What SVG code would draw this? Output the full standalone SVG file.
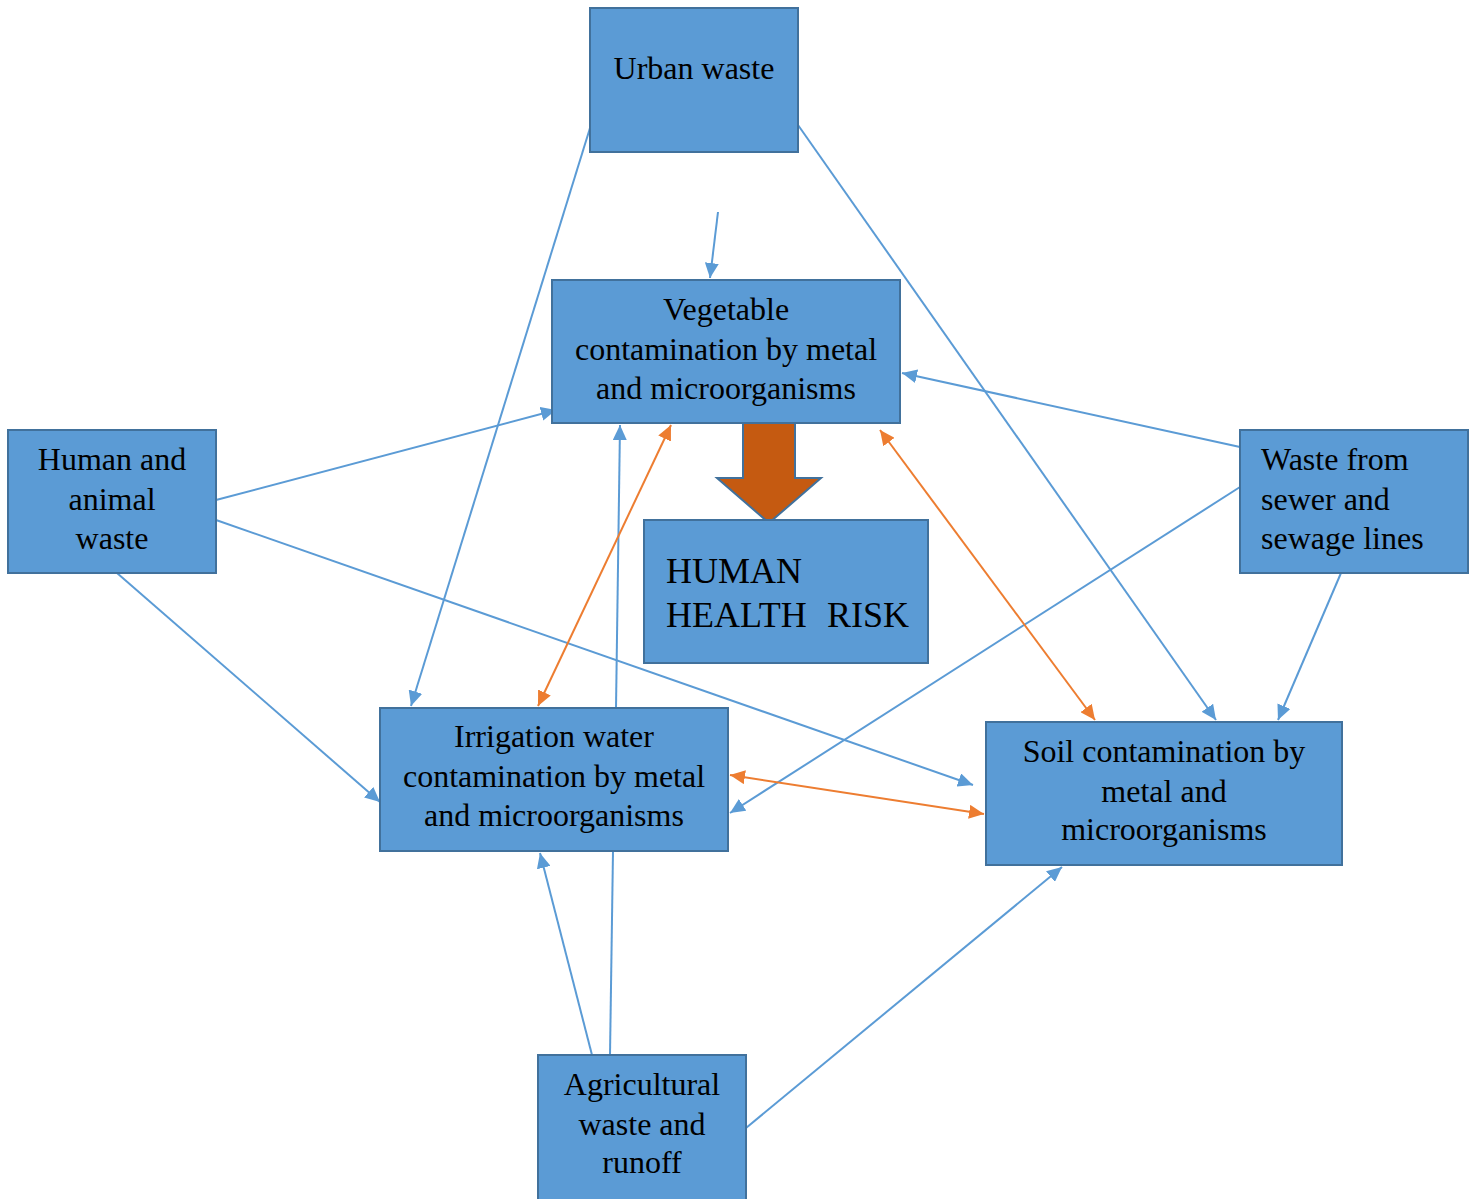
<svg xmlns="http://www.w3.org/2000/svg" width="1476" height="1199" viewBox="0 0 1476 1199">
<style>
.box{fill:#5B9BD5;stroke:#41719C;stroke-width:2}
text{font-family:"Liberation Serif","Times New Roman",serif;font-size:32px;fill:#000}
.c{text-anchor:middle}
.big{font-size:36px}
.b{fill:none;stroke:#5B9BD5;stroke-width:2}
.o{fill:none;stroke:#ED7D31;stroke-width:2}
</style>
<defs>
<marker id="ab" markerUnits="userSpaceOnUse" markerWidth="16" markerHeight="14" refX="15" refY="7" orient="auto"><path d="M0,0 L15,7 L0,14 Z" fill="#5B9BD5"/></marker>
<marker id="ao" markerUnits="userSpaceOnUse" markerWidth="16" markerHeight="14" refX="15" refY="7" orient="auto"><path d="M0,0 L15,7 L0,14 Z" fill="#ED7D31"/></marker>
<marker id="aos" markerUnits="userSpaceOnUse" markerWidth="16" markerHeight="14" refX="15" refY="7" orient="auto-start-reverse"><path d="M0,0 L15,7 L0,14 Z" fill="#ED7D31"/></marker>
</defs>
<g id="connectors">
<line class="b" x1="590" y1="128" x2="411" y2="706" marker-end="url(#ab)"/>
<line class="b" x1="798" y1="125" x2="1216" y2="720" marker-end="url(#ab)"/>
<line class="b" x1="718" y1="212" x2="710" y2="278" marker-end="url(#ab)"/>
<line class="b" x1="216" y1="500" x2="556" y2="410" marker-end="url(#ab)"/>
<line class="b" x1="216" y1="520" x2="973" y2="785" marker-end="url(#ab)"/>
<line class="b" x1="117" y1="573" x2="380" y2="802" marker-end="url(#ab)"/>
<line class="b" x1="1240" y1="447" x2="902" y2="373" marker-end="url(#ab)"/>
<line class="b" x1="1240" y1="487" x2="730" y2="813" marker-end="url(#ab)"/>
<line class="b" x1="1341" y1="573" x2="1278" y2="720" marker-end="url(#ab)"/>
<line class="b" x1="616" y1="708" x2="620" y2="425" marker-end="url(#ab)"/>
<line class="b" x1="592" y1="1055" x2="540" y2="853" marker-end="url(#ab)"/>
<line class="b" x1="610" y1="1055" x2="613" y2="851"/>
<line class="b" x1="746" y1="1128" x2="1062" y2="867" marker-end="url(#ab)"/>
<line class="o" x1="538" y1="706" x2="671" y2="425" marker-start="url(#aos)" marker-end="url(#ao)"/>
<line class="o" x1="880" y1="430" x2="1095" y2="720" marker-start="url(#aos)" marker-end="url(#ao)"/>
<line class="o" x1="730" y1="775" x2="984" y2="814" marker-start="url(#aos)" marker-end="url(#ao)"/>
</g>
<g id="urban"><rect class="box" x="590" y="8" width="208" height="144"/><text class="c" x="694" y="79">Urban waste</text></g>
<g id="vegetable"><rect class="box" x="552" y="280" width="348" height="143"/><text class="c"><tspan x="726" y="320">Vegetable</tspan><tspan x="726" y="360">contamination by metal</tspan><tspan x="726" y="399">and microorganisms</tspan></text></g>
<g id="bigarrow"><path d="M743,423 L795,423 L795,478 L821,478 L769,523 L717,478 L743,478 Z" fill="#C55A11" stroke="#41719C" stroke-width="2"/></g>
<g id="human"><rect class="box" x="8" y="430" width="208" height="143"/><text class="c"><tspan x="112" y="470">Human and</tspan><tspan x="112" y="510">animal</tspan><tspan x="112" y="549">waste</tspan></text></g>
<g id="sewer"><rect class="box" x="1240" y="430" width="228" height="143"/><text><tspan x="1261" y="470">Waste from</tspan><tspan x="1261" y="510">sewer and</tspan><tspan x="1261" y="549">sewage lines</tspan></text></g>
<g id="risk"><rect class="box" x="644" y="520" width="284" height="143"/><text class="big"><tspan x="666" y="583">HUMAN</tspan><tspan x="666" y="627">HEALTH</tspan><tspan x="827" y="627">RISK</tspan></text></g>
<g id="irrigation"><rect class="box" x="380" y="708" width="348" height="143"/><text class="c"><tspan x="554" y="747">Irrigation water</tspan><tspan x="554" y="787">contamination by metal</tspan><tspan x="554" y="826">and microorganisms</tspan></text></g>
<g id="soil"><rect class="box" x="986" y="722" width="356" height="143"/><text class="c"><tspan x="1164" y="762">Soil contamination by</tspan><tspan x="1164" y="802">metal and</tspan><tspan x="1164" y="840">microorganisms</tspan></text></g>
<g id="agri"><rect class="box" x="538" y="1055" width="208" height="150"/><text class="c"><tspan x="642" y="1095">Agricultural</tspan><tspan x="642" y="1135">waste and</tspan><tspan x="642" y="1173">runoff</tspan></text></g>
</svg>
